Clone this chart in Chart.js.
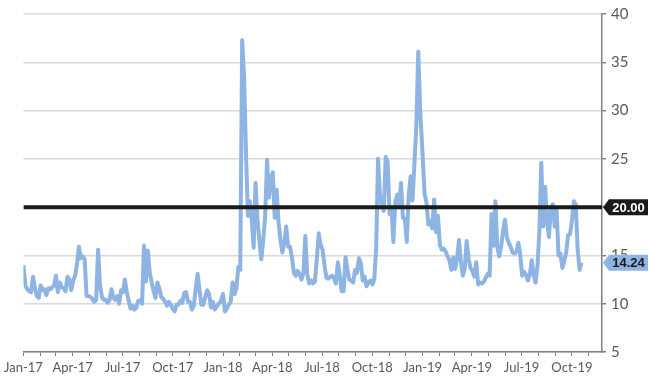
<!DOCTYPE html>
<html>
<head>
<meta charset="utf-8">
<script src="https://cdn.jsdelivr.net/npm/chart.js@4/dist/chart.umd.min.js"></script>
<style>
  html, body { margin: 0; padding: 0; background: #fff; }
  #wrap { width: 650px; height: 381px; }
</style>
</head>
<body>
<div id="wrap"><canvas id="vix" width="650" height="381"></canvas></div>
<script>
var stepDays = 3.5;
var yearStarts = [0, 365, 730]; // days after 1 Jan 2017

var vix2017 = [
    14.0, 11.9, 11.5, 11.3, 11.2, 12.8, 11.6, 10.8, 10.6, 11.9,
    11.4, 11.5, 10.9, 11.6, 11.5, 11.7, 11.9, 12.9, 11.2, 12.2,
    11.7, 11.6, 11.3, 12.8, 12.5, 11.4, 12.4, 12.9, 14.1, 15.9,
    14.7, 14.9, 14.6, 10.8, 10.8, 10.7, 10.5, 10.2, 10.4, 15.6,
    12.0, 10.7, 10.4, 10.4, 10.1, 10.4, 11.5, 10.6, 10.4, 10.8,
    10.0, 11.4, 11.2, 12.5, 11.2, 10.3, 9.5, 9.8, 9.4, 9.6,
    10.3, 10.3, 10.0, 16.0, 12.3, 15.5, 13.2, 12.2, 11.3, 10.6,
    12.2, 11.6, 10.7, 10.5, 10.2, 9.8, 10.2, 9.9, 9.5, 9.2,
    9.9, 9.9, 10.3, 10.1, 11.1, 11.2, 10.2, 10.2, 9.4, 9.8,
    11.5, 13.1, 11.4, 9.9, 9.9, 10.7, 11.4, 11.0, 9.6, 10.2,
    9.4, 9.7, 10.0, 10.2
];
var vix2018 = [
    11.0, 9.2, 9.5, 9.9, 10.2, 12.2, 11.0, 11.6, 13.8, 13.5,
    37.3, 33.5, 25.6, 19.1, 20.6, 18.7, 15.8, 22.5, 18.7, 16.5,
    14.6, 16.6, 19.0, 24.9, 21.0, 22.9, 23.6, 18.9, 21.8, 18.5,
    16.6, 15.3, 16.3, 18.0, 15.9, 15.9, 14.8, 13.2, 12.9, 13.4,
    13.1, 12.5, 13.2, 17.0, 13.0, 12.1, 12.4, 12.1, 12.3, 14.6,
    17.3, 16.1, 15.6, 14.0, 12.7, 12.6, 12.8, 12.9, 12.6, 12.1,
    14.3, 13.0, 11.3, 11.3, 14.8, 13.5, 12.5, 12.4, 12.2, 13.5,
    13.2, 14.7, 14.2, 12.4, 12.8, 11.8, 12.2, 12.4, 12.0, 12.5,
    15.7, 25.0, 21.3, 20.1, 19.6, 25.2, 24.7, 19.3, 20.0, 16.4,
    20.5, 21.3, 20.1, 22.5, 18.9, 18.8, 16.4, 21.2, 23.2, 20.7,
    24.5, 28.4, 36.1, 30.0
];
var vix2019 = [
    25.4, 21.4, 20.5, 18.2, 18.6, 17.8, 20.8, 17.4, 19.1, 16.1,
    15.6, 15.7, 15.4, 14.9, 14.5, 13.5, 14.8, 13.6, 14.7, 16.6,
    14.3, 12.9, 13.6, 16.5, 14.7, 13.7, 13.4, 12.8, 14.3, 12.0,
    12.2, 12.1, 12.3, 12.7, 13.1, 12.9, 19.3, 16.0, 20.6, 15.9,
    14.9, 15.9, 17.5, 18.7, 16.9, 16.3, 15.9, 15.3, 15.2, 15.4,
    16.3, 15.1, 12.9, 13.3, 13.0, 12.4, 13.0, 14.5, 13.0, 12.2,
    13.9, 17.6, 24.6, 18.0, 22.1, 18.5, 16.9, 19.9, 20.3, 18.0,
    19.7, 15.0, 15.2, 13.7, 14.4, 15.3, 17.1, 17.2, 18.6, 20.6,
    20.3, 15.6, 13.5, 14.24
];

var quarterLabels = ['Jan-17', 'Apr-17', 'Jul-17', 'Oct-17', 'Jan-18', 'Apr-18',
    'Jul-18', 'Oct-18', 'Jan-19', 'Apr-19', 'Jul-19', 'Oct-19'];
var yTicks = [5, 10, 15, 20, 25, 30, 35, 40];
var threshold = 20;
var axisEndDay = 1058;

function dayOf(year, month) {
    return (Date.UTC(year, month, 1) - Date.UTC(2017, 0, 1)) / 86400000;
}

var points = [];
[vix2017, vix2018, vix2019].forEach(function (arr, k) {
    arr.forEach(function (v, i) {
        points.push({ x: yearStarts[k] + i * stepDays, y: v });
    });
});
var lastValue = vix2019[vix2019.length - 1];

// one tick per month, only quarter months get a label
var monthTicks = [];
for (var m = 0; m < 35; m++) monthTicks.push(dayOf(2017, m));

var axisGrey = '#7f7f7f';
var textGrey = '#595959';

var tagPlugin = {
    id: 'valueTags',
    afterDraw: function (chart) {
        var ctx = chart.ctx;
        var yScale = chart.scales.y;
        var x0 = chart.chartArea.right + 1;
        var tags = [
            { value: threshold, text: threshold.toFixed(2), fill: '#1a1a1a', color: '#ffffff' },
            { value: lastValue, text: lastValue.toFixed(2), fill: '#8db4e2', color: '#1a1a1a' }
        ];
        tags.forEach(function (t) {
            var y = yScale.getPixelForValue(t.value);
            var h = 16, w = 39, tip = 6;
            ctx.save();
            ctx.fillStyle = t.fill;
            ctx.beginPath();
            ctx.moveTo(x0, y);
            ctx.lineTo(x0 + tip, y - h / 2);
            ctx.lineTo(x0 + tip + w, y - h / 2);
            ctx.lineTo(x0 + tip + w, y + h / 2);
            ctx.lineTo(x0 + tip, y + h / 2);
            ctx.closePath();
            ctx.fill();
            ctx.fillStyle = t.color;
            ctx.font = 'bold 13px "Liberation Sans", Arial, sans-serif';
            ctx.textAlign = 'center';
            ctx.textBaseline = 'middle';
            ctx.fillText(t.text, x0 + tip + w / 2, y + 1);
            ctx.restore();
        });
    }
};

var config = {
    type: 'line',
    data: {
        datasets: [
            {
                label: 'Threshold',
                data: [{ x: 0, y: threshold }, { x: axisEndDay, y: threshold }],
                borderColor: '#1a1a1a',
                borderWidth: 4,
                pointRadius: 0,
            },
            {
                label: 'VIX',
                data: points,
                borderColor: '#8db4e2',
                borderWidth: 4,
                borderJoinStyle: 'round',
                pointRadius: 0,
                tension: 0,
            },
        ],
    },
    options: {
        responsive: false,
        animation: false,
        devicePixelRatio: 1,
        layout: {
            padding: { top: 9, left: 22, right: 0, bottom: 0 },
        },
        plugins: {
            legend: { display: false },
            tooltip: { enabled: false },
        },
        scales: {
            x: {
                type: 'linear',
                min: 0,
                max: axisEndDay,
                afterBuildTicks: function (scale) {
                    scale.ticks = monthTicks.map(function (v) { return { value: v }; });
                },
                afterFit: function (scale) {
                    scale.height = 29;
                },
                grid: {
                    drawOnChartArea: false,
                    tickColor: axisGrey,
                    tickLength: 4,
                    lineWidth: 1,
                },
                border: { color: axisGrey, width: 1.5 },
                ticks: {
                    autoSkip: false,
                    maxRotation: 0,
                    padding: 4,
                    color: textGrey,
                    font: { family: 'Lato', size: 13 },
                    callback: function (value, index) {
                        return index % 3 === 0 ? quarterLabels[index / 3] : '';
                    },
                },
            },
            y: {
                position: 'right',
                min: 5,
                max: 40,
                afterBuildTicks: function (scale) {
                    scale.ticks = yTicks.map(function (v) { return { value: v }; });
                },
                afterFit: function (scale) {
                    scale.width = 48;
                },
                grid: {
                    color: '#d9d9d9',
                    lineWidth: 1.5,
                    tickColor: axisGrey,
                    tickLength: 4,
                },
                border: { color: axisGrey, width: 1.5 },
                ticks: {
                    padding: 5,
                    color: textGrey,
                    font: { family: 'Lato', size: 15 },
                },
            },
        },
    },
    plugins: [tagPlugin],
};

var vixChart = new Chart(document.getElementById('vix'), config);
</script>
</body>
</html>
